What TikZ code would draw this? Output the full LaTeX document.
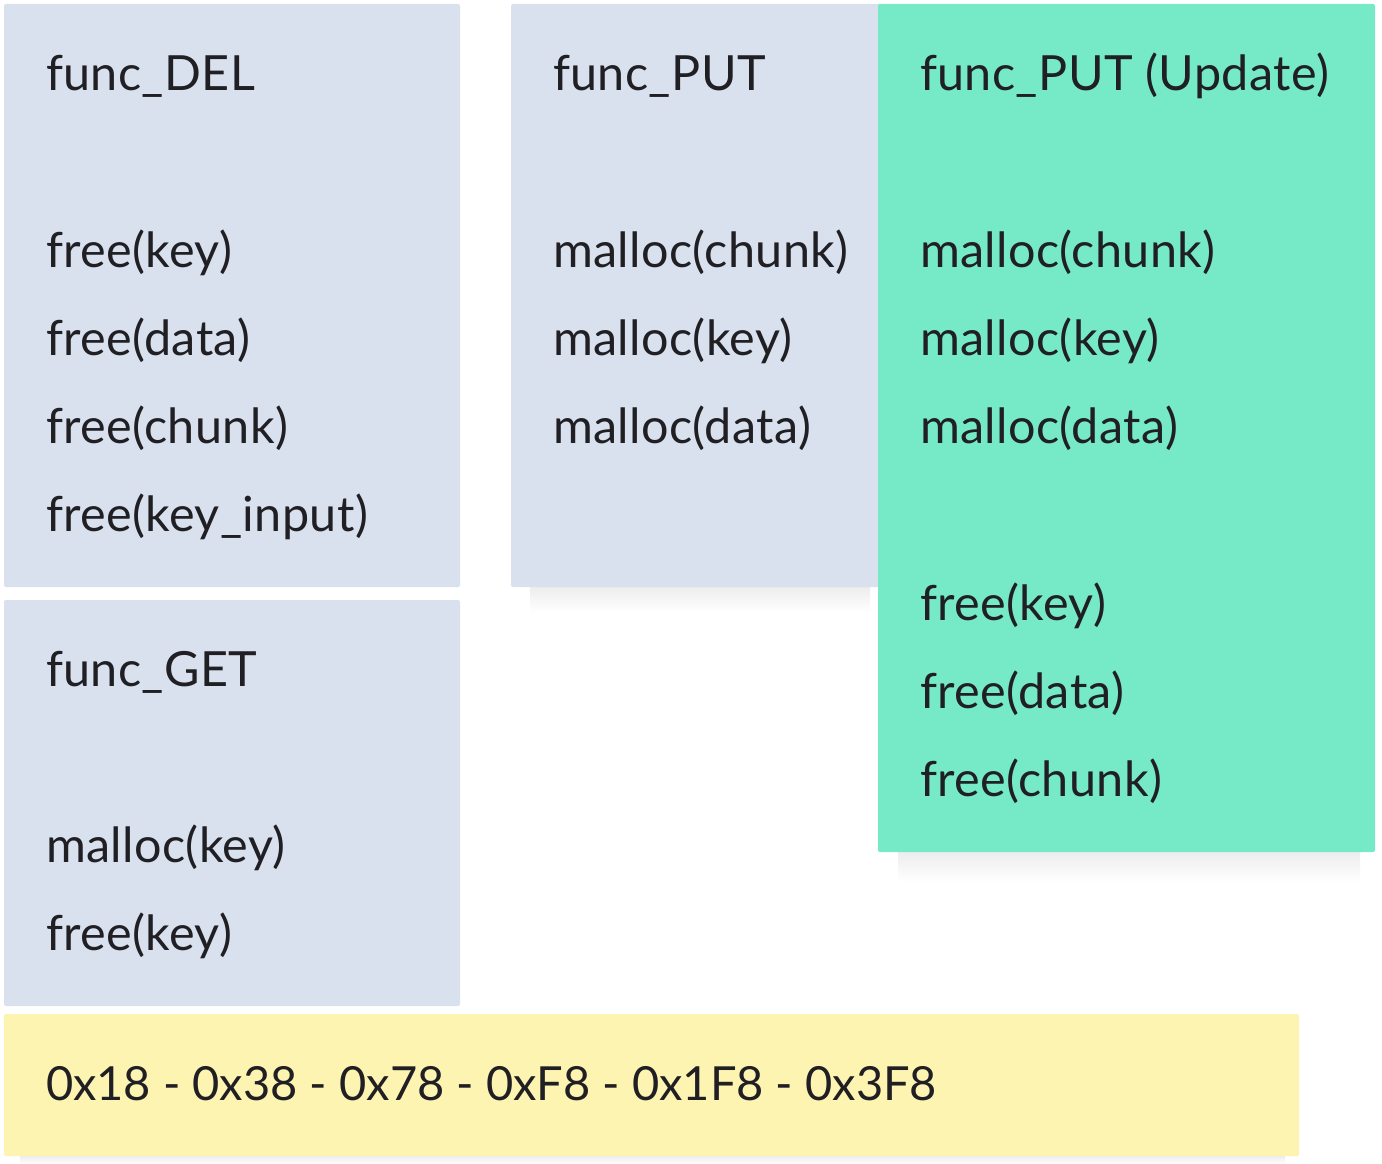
\documentclass[tikz,border=0pt]{standalone}
\usepackage{fontspec}
\setmainfont{Lato}
\definecolor{boxblue}{HTML}{DAE1EE}
\definecolor{boxgreen}{HTML}{76EAC6}
\definecolor{boxyellow}{HTML}{FDF4B1}
\definecolor{txt}{HTML}{1F1F24}
\tikzset{
  card/.style={draw=none, rounded corners=2pt},
  softshadow/.style={top color=black!7, bottom color=white, draw=none},
  lbl/.style={anchor=base west, inner sep=0pt, outer sep=0pt, text=txt,
    font=\fontsize{48.5}{56}\selectfont\addfontfeature{LetterSpace=0.8}},
  numlbl/.style={lbl, font=\fontsize{47}{56}\selectfont}
}
\begin{document}
\begin{tikzpicture}[x=1pt,y=-1pt]
\useasboundingbox[fill=white] (0,0) rectangle (1382,1164);
% soft shadows
\shade[softshadow] (530,587) rectangle (870,612);
\shade[softshadow] (898,852) rectangle (1360,882);
\shade[softshadow] (20,1156) rectangle (1285,1164);
% cards
\path[card, fill=boxblue] (4,4) rectangle (460,587);
\path[card, fill=boxblue] (4,600) rectangle (460,1006);
\path[card, fill=boxblue] (511,4) rectangle (882,587);
\path[card, fill=boxgreen] (878,4) rectangle (1375,852);
\path[card, fill=boxyellow] (4,1014) rectangle (1299,1156);
% func_DEL
\node[lbl] (del0) at (46,91) {func\_DEL};
\node[lbl] (del1) at (46,267) {free(key)};
\node[lbl] (del2) at (46,355) {free(data)};
\node[lbl] (del3) at (46,443) {free(chunk)};
\node[lbl] (del4) at (46,531) {free(key\_input)};
% func_GET
\node[lbl] (get0) at (46,686) {func\_GET};
\node[lbl] (get1) at (46,862) {malloc(key)};
\node[lbl] (get2) at (46,950) {free(key)};
% func_PUT
\node[lbl] (put0) at (553,91) {func\_PUT};
\node[lbl] (put1) at (553,267) {malloc(chunk)};
\node[lbl] (put2) at (553,355) {malloc(key)};
\node[lbl] (put3) at (553,443) {malloc(data)};
% func_PUT (Update)
\node[lbl] (upd0) at (920,91) {func\_PUT (Update)};
\node[lbl] (upd1) at (920,267) {malloc(chunk)};
\node[lbl] (upd2) at (920,355) {malloc(key)};
\node[lbl] (upd3) at (920,443) {malloc(data)};
\node[lbl] (upd4) at (920,620) {free(key)};
\node[lbl] (upd5) at (920,708) {free(data)};
\node[lbl] (upd6) at (920,796) {free(chunk)};
% sizes
\node[numlbl] (sizes) at (46,1100) {0x18 - 0x38 - 0x78 - 0xF8 - 0x1F8 - 0x3F8};
\end{tikzpicture}
\end{document}
